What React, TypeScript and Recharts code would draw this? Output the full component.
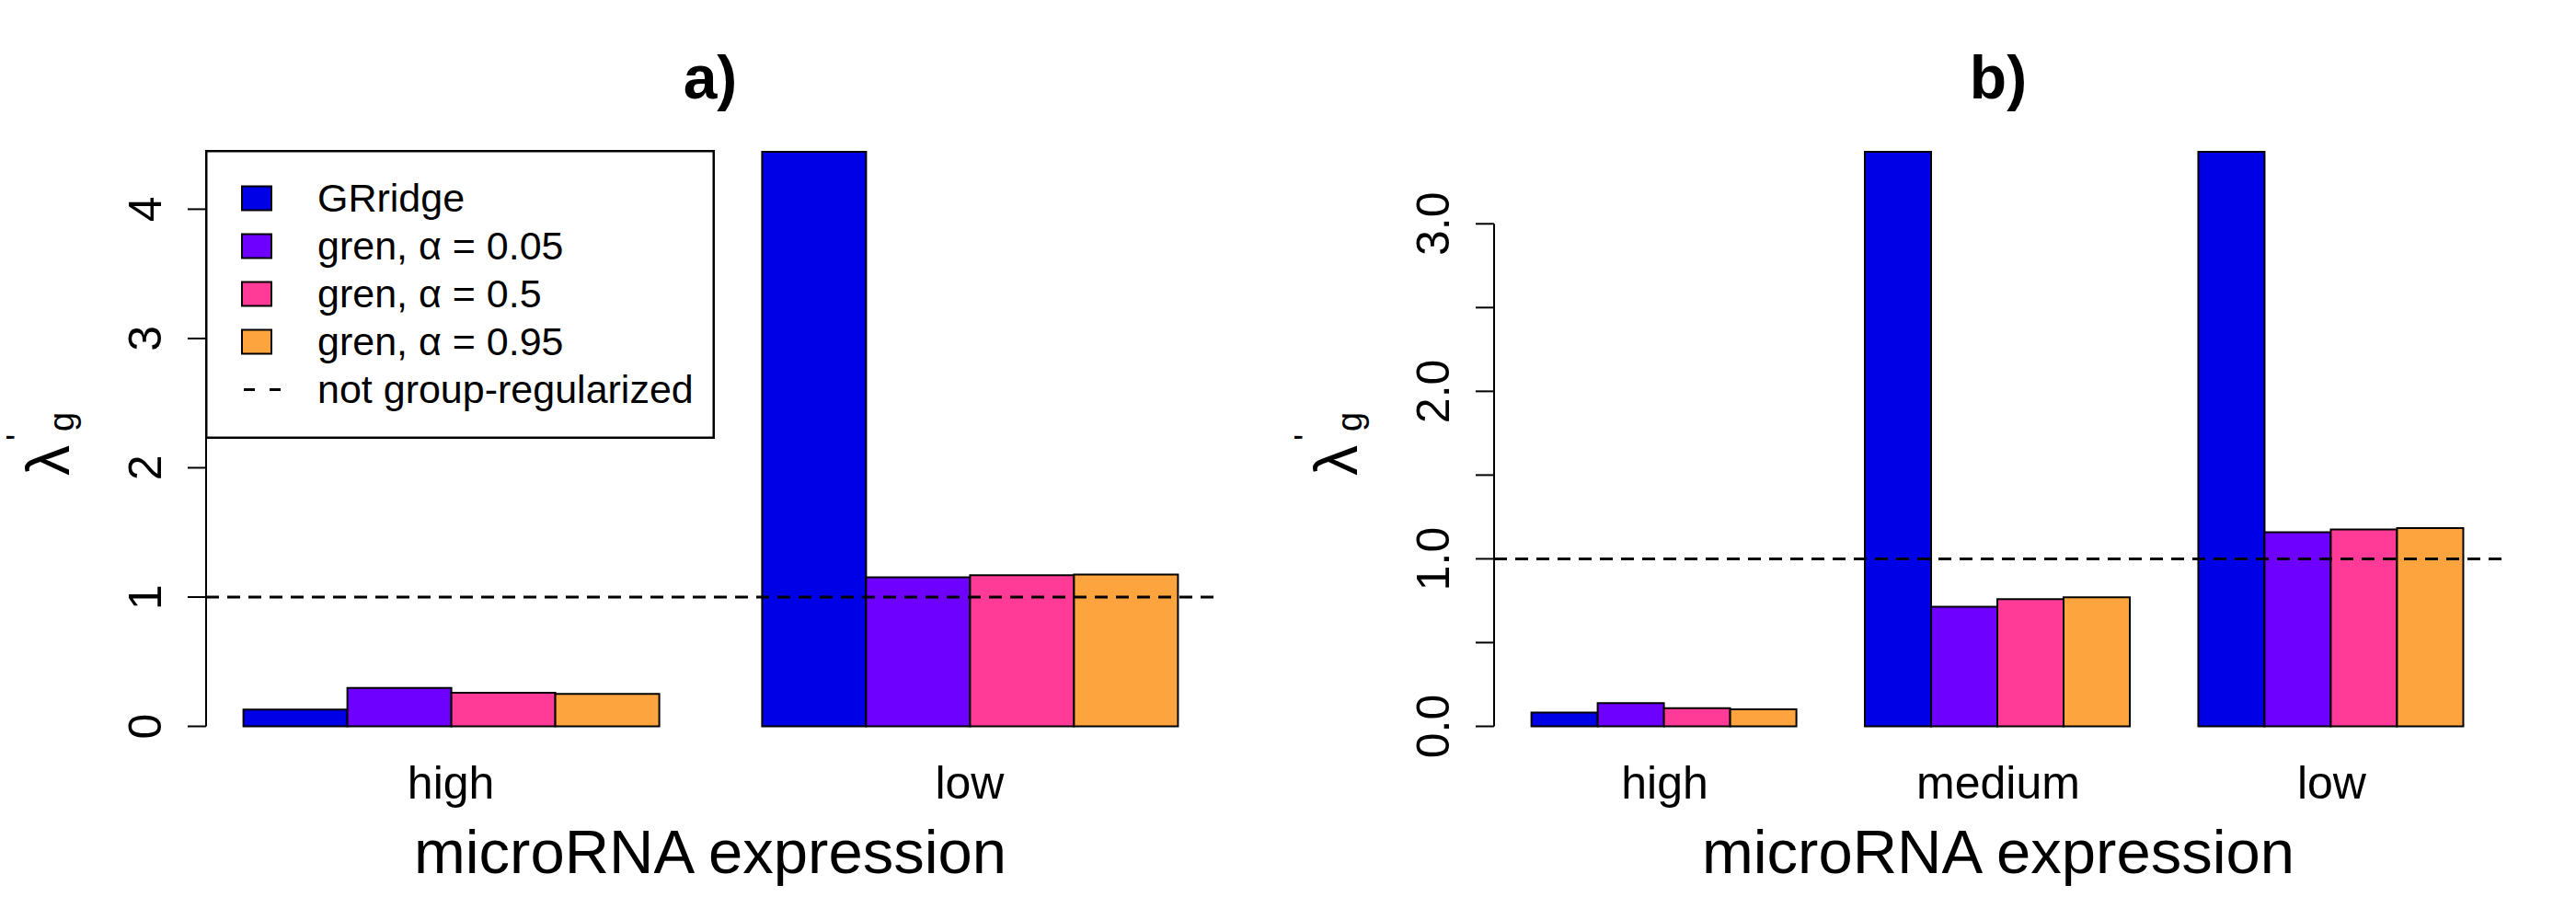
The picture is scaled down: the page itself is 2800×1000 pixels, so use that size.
import { BarChart, Bar, XAxis, YAxis, ReferenceLine, Legend } from "recharts";

const FONT = "'Liberation Sans', Arial, Helvetica, sans-serif";

// series shared by both panels
const SERIES_KEYS = ["grridge", "gren005", "gren05", "gren095"];
const SERIES_LABELS = ["GRridge", "gren, α = 0.05", "gren, α = 0.5", "gren, α = 0.95"];
const SERIES_COLORS = ["#0000E6", "#6E00FF", "#FF3A97", "#FEA43E"];
const REF_LEVEL = 1;
const REF_LABEL = "not group-regularized";
const X_TITLE = "microRNA expression";

// panel a)
const groupsA = ["high", "low"];
const grridgeA = [0.13, 4.444]; // GRridge "low" runs off the top of the panel
const gren005A = [0.297, 1.152];
const gren05A = [0.26, 1.168];
const gren095A = [0.25, 1.175];
const ticksA = [0, 1, 2, 3, 4];
const labelledA = [0, 1, 2, 3, 4];

// panel b)
const groupsB = ["high", "medium", "low"];
const grridgeB = [0.082, 3.43, 3.43]; // clipped at the top as well
const gren005B = [0.139, 0.714, 1.159];
const gren05B = [0.108, 0.76, 1.176];
const gren095B = [0.102, 0.77, 1.183];
const ticksB = [0, 0.5, 1, 1.5, 2, 2.5, 3];
const labelledB = [0, 1, 2, 3];

const PLOT_TOP = 165;
const X_AXIS_H = 210.5;
const PLOT_H = 1000 - PLOT_TOP - X_AXIS_H;

function YTick(props: any) {
  const { x, y, payload, labelled, decimals, topTick, pxPerUnit } = props;
  const v = payload.value;
  const lx = x - 66;
  return (
    <g>
      {v === topTick && (
        <line x1={x} x2={x} y1={y} y2={y + topTick * pxPerUnit} stroke="#000" strokeWidth={2} />
      )}
      <line x1={x - 20} x2={x} y1={y} y2={y} stroke="#000" strokeWidth={2} />
      {labelled.includes(v) && (
        <text
          x={lx}
          y={y}
          transform={`rotate(-90 ${lx} ${y})`}
          textAnchor="middle"
          dominantBaseline="central"
          fontSize={50}
          fontFamily={FONT}
          fill="#000"
        >
          {v.toFixed(decimals)}
        </text>
      )}
    </g>
  );
}

function XTick(props: any) {
  const { x, y, payload } = props;
  return (
    <text x={x} y={y + 78.5} textAnchor="middle" fontSize={50} fontFamily={FONT} fill="#000">
      {payload.value}
    </text>
  );
}

function LegendBox() {
  const rowY = (i: number) => 52.5 + i * 52;
  return (
    <svg width={554} height={314} style={{ display: "block" }}>
      <rect x={1.25} y={1.25} width={551.5} height={311.5} fill="#fff" stroke="#000" strokeWidth={2.5} />
      {SERIES_LABELS.map((lab, i) => (
        <g key={lab}>
          <rect x={40} y={rowY(i) - 13} width={32} height={26} fill={SERIES_COLORS[i]} stroke="#000" strokeWidth={2} />
          <text x={122} y={rowY(i) + 14} fontSize={43} fontFamily={FONT} fill="#000">
            {lab}
          </text>
        </g>
      ))}
      <line x1={42} x2={84} y1={rowY(4)} y2={rowY(4)} stroke="#000" strokeWidth={3} strokeDasharray="12 16" />
      <text x={122} y={rowY(4) + 14} fontSize={43} fontFamily={FONT} fill="#000">
        {REF_LABEL}
      </text>
    </svg>
  );
}

interface PanelProps {
  left: number;
  title: string;
  groups: string[];
  values: number[][];
  yMax: number;
  ticks: number[];
  labelled: number[];
  decimals: number;
  gap: number;
  pad: number;
  showLegend?: boolean;
}

function Panel({ left, title, groups, values, yMax, ticks, labelled, decimals, gap, pad, showLegend }: PanelProps) {
  const data = groups.map((g, i) => {
    const row: Record<string, string | number> = { group: g };
    SERIES_KEYS.forEach((k, j) => (row[k] = values[j][i]));
    return row;
  });
  const pxPerUnit = PLOT_H / yMax;
  const topTick = ticks[ticks.length - 1];

  return (
    <div style={{ position: "absolute", left, top: 0, width: 1400, height: 1000 }}>
      <BarChart
        width={1400}
        height={1000}
        data={data}
        margin={{ top: PLOT_TOP, right: 80, bottom: 0, left: 100 }}
        barGap={0}
        barCategoryGap={gap}
      >
        <XAxis
          dataKey="group"
          axisLine={false}
          tickLine={false}
          tickSize={0}
          tickMargin={0}
          height={X_AXIS_H}
          padding={{ left: pad, right: pad }}
          interval={0}
          tick={(p: any) => <XTick {...p} />}
          label={{
            value: X_TITLE,
            position: "insideBottom",
            offset: 51,
            fontSize: 67,
            fill: "#000",
            fontFamily: FONT,
          }}
        />
        <YAxis
          type="number"
          domain={[0, yMax]}
          ticks={ticks}
          width={124}
          axisLine={false}
          tickLine={false}
          tickSize={0}
          tickMargin={0}
          interval={0}
          tick={(p: any) => (
            <YTick {...p} labelled={labelled} decimals={decimals} topTick={topTick} pxPerUnit={pxPerUnit} />
          )}
        />
        {SERIES_KEYS.map((k, i) => (
          <Bar
            key={k}
            dataKey={k}
            name={SERIES_LABELS[i]}
            fill={SERIES_COLORS[i]}
            stroke="#000"
            strokeWidth={2}
            isAnimationActive={false}
          />
        ))}
        <ReferenceLine y={REF_LEVEL} stroke="#000" strokeWidth={3} strokeDasharray="14 9" />
        {showLegend && (
          <Legend
            layout="vertical"
            align="center"
            verticalAlign="middle"
            wrapperStyle={{ left: 223, top: 163, width: 554, height: 314 }}
            content={() => <LegendBox />}
          />
        )}
      </BarChart>
      <svg
        width={1400}
        height={1000}
        style={{ position: "absolute", left: 0, top: 0, pointerEvents: "none" }}
      >
        <text x={772} y={107} textAnchor="middle" fontWeight="bold" fontSize={66} fontFamily={FONT} fill="#000">
          {title}
        </text>
        <g transform="translate(75,482) rotate(-90)" fontFamily={FONT} fill="#000">
          <text x={-35} y={0} fontSize={66}>
            λ
          </text>
          <text x={13} y={5} fontSize={38}>
            g
          </text>
          <text x={3} y={-41} fontSize={38}>
            '
          </text>
        </g>
      </svg>
    </div>
  );
}

export default function App() {
  return (
    <div style={{ position: "absolute", left: 0, top: 0, width: 2800, height: 1000, background: "#fff" }}>
      <Panel
        left={0}
        title="a)"
        groups={groupsA}
        values={[grridgeA, gren005A, gren05A, gren095A]}
        yMax={4.444}
        ticks={ticksA}
        labelled={labelledA}
        decimals={0}
        gap={56.4}
        pad={-15.8}
        showLegend
      />
      <Panel
        left={1400}
        title="b)"
        groups={groupsB}
        values={[grridgeB, gren005B, gren05B, gren095B]}
        yMax={3.43}
        ticks={ticksB}
        labelled={labelledB}
        decimals={1}
        gap={36.25}
        pad={4.35}
      />
    </div>
  );
}
